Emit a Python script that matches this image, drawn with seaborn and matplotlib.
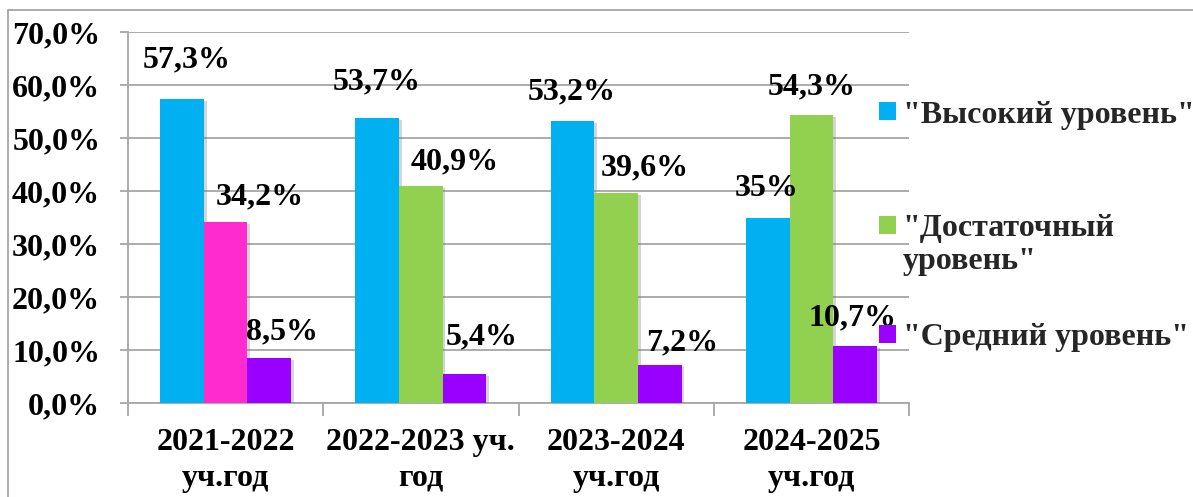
import pandas as pd
import matplotlib.pyplot as plt
import matplotlib.patheffects as pe
from matplotlib.patches import Patch, Rectangle
from matplotlib.lines import Line2D
from matplotlib.legend_handler import HandlerPatch
from matplotlib.ticker import FuncFormatter, FixedLocator
import seaborn as sns

years = ["2021-2022\nуч.год", "2022-2023 уч.\nгод", "2023-2024\nуч.год", "2024-2025\nуч.год"]
levels = ['"Высокий уровень"', '"Достаточный\nуровень"', '"Средний уровень"']
high = [57.3, 53.7, 53.2, 35.0]
enough = [34.2, 40.9, 39.6, 54.3]
middle = [8.5, 5.4, 7.2, 10.7]

colors = ["#00B0F0", "#92D050", "#9900FF"]
pink = "#FF2BCE"
gray = "#A6A6A6"

# label nudges in pixels (dx, dy above bar top), per series and group
nudges = [
    [(5, 39), (-1, 36), (-1, 29), (-1, 29)],
    [(34, 25), (34, 24), (29, 25), (0, 28)],
    [(13, 26), (17, 37), (22, 22), (-2, 28)],
]

df = pd.DataFrame({
    "year": years * 3,
    "level": [levels[0]] * 4 + [levels[1]] * 4 + [levels[2]] * 4,
    "value": high + enough + middle,
})

sns.set_theme(style="white")
plt.rcParams["font.family"] = ["Liberation Serif", "DejaVu Serif"]
plt.rcParams["font.weight"] = "bold"

fig = plt.figure(figsize=(11.93, 4.97), dpi=100)
ax = fig.add_axes([128 / 1193, 1 - 403 / 497, 781 / 1193, 371 / 497])

sns.barplot(data=df, x="year", y="value", hue="level", palette=colors,
            width=0.67, gap=0, saturation=1, ax=ax, legend=False, zorder=3,
            linewidth=0, edgecolor="none")

# first group's middle bar is pink
ax.containers[1][0].set_facecolor(pink)

for bars in ax.containers:
    for b in bars:
        b.set_path_effects([pe.withSimplePatchShadow(offset=(2, -1.5), shadow_rgbFace="#777777", alpha=0.3),
                            pe.Normal()])


def fmt(v):
    if float(v).is_integer():
        return f"{int(v)}%"
    return f"{v:.1f}%".replace(".", ",")


for si, bars in enumerate(ax.containers):
    for gi, b in enumerate(bars):
        v = b.get_height()
        dx, dy = nudges[si][gi]
        ax.annotate(fmt(v), (b.get_x() + b.get_width() / 2, v),
                    xytext=(dx, dy), textcoords="offset pixels",
                    ha="center", va="center", fontsize=23, fontweight="bold",
                    color="black", zorder=5)

ax.set_ylim(0, 70)
ax.set_xlim(-0.5, 3.5)
ax.set_yticks(range(0, 71, 10))
ax.yaxis.set_major_formatter(FuncFormatter(lambda v, p: f"{v:.1f}%".replace(".", ",")))
ax.yaxis.grid(True, color=gray, lw=1.3, zorder=0)
ax.xaxis.grid(False)
ax.set_axisbelow(True)

ax.xaxis.set_minor_locator(FixedLocator([-0.5, 0.5, 1.5, 2.5, 3.5]))
ax.tick_params(axis="x", which="major", length=0, pad=18, labelsize=23)
ax.tick_params(axis="x", which="minor", length=9, width=1.3, color=gray, bottom=True, direction="out")
ax.tick_params(axis="y", length=6, width=1.3, color=gray, left=True, direction="out", pad=14, labelsize=23)
for lab in ax.get_xticklabels() + ax.get_yticklabels():
    lab.set_fontweight("bold")
    lab.set_color("black")
for lab in ax.get_xticklabels():
    lab.set_linespacing(1.3)

ax.set_xlabel("")
ax.set_ylabel("")
for s in ["top", "right"]:
    ax.spines[s].set_visible(False)
for s in ["left", "bottom"]:
    ax.spines[s].set_color(gray)
    ax.spines[s].set_linewidth(1.3)


# handle sits next to the first line of a two-line label
def top_line_patch(legend, orig_handle, xdescent, ydescent, width, height, fontsize):
    return Rectangle((-xdescent, -ydescent + 0.62 * fontsize), width, height)


# one legend per entry, like the hand-placed legend in the original
legend_rows = [115, 245, 338]
for i, (c, lab, row) in enumerate(zip(colors, levels, legend_rows)):
    hmap = {}
    h = Patch(facecolor=c, edgecolor="none")
    if "\n" in lab:
        hmap = {h: HandlerPatch(patch_func=top_line_patch)}
    leg = fig.legend([h], [lab], loc="center left", bbox_to_anchor=(879 / 1193, 1 - row / 497),
                     frameon=False, fontsize=23, handlelength=0.52, handleheight=0.52,
                     handletextpad=0.22, borderpad=0, borderaxespad=0, handler_map=hmap)
    for t in leg.get_texts():
        t.set_fontweight("bold")
    leg.set_zorder(10)

# outer chart border (top and left edges visible)
fig.add_artist(Line2D([8 / 1193, 1], [1 - 10 / 497, 1 - 10 / 497], color=gray, lw=1.3, transform=fig.transFigure))
fig.add_artist(Line2D([8 / 1193, 8 / 1193], [0, 1 - 10 / 497], color=gray, lw=1.3, transform=fig.transFigure))

fig.savefig("out.png", dpi=100)
